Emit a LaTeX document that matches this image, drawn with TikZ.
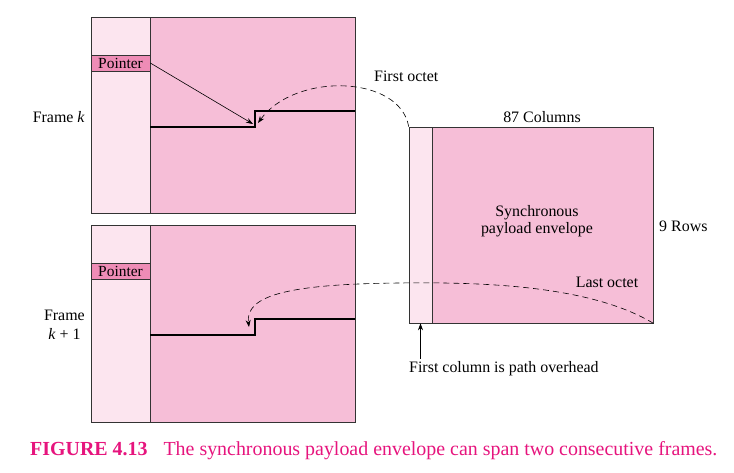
\documentclass[tikz,border=0pt]{standalone}
\usepackage{fontspec}
\setmainfont{Liberation Serif}
\usetikzlibrary{positioning,arrows.meta,calc}
\definecolor{ovhpink}{RGB}{252,229,239}
\definecolor{spepink}{RGB}{246,190,215}
\definecolor{ptrpink}{RGB}{238,140,182}
\definecolor{capmag}{RGB}{230,20,125}
\tikzset{
  ovh/.style={draw=black!80, fill=ovhpink, line width=0.6pt, inner sep=0pt},
  payload/.style={draw=black!80, fill=spepink, line width=0.6pt, inner sep=0pt},
  ptrbox/.style={draw=black!80, fill=ptrpink, line width=0.6pt, inner sep=0pt,
                 minimum width=59bp, minimum height=16bp, font=\fontsize{15.5}{17}\selectfont},
  stepline/.style={line width=1.2pt},
  lbl/.style={font=\fontsize{16}{17}\selectfont, inner sep=0pt},
  ptrarrow/.style={-{Stealth[length=7bp,width=5bp]}, line width=0.6pt},
  octet/.style={-{Stealth[length=7bp,width=5bp]}, dashed, dash pattern=on 6bp off 4bp, line width=0.6pt},
}
\begin{document}
\begin{tikzpicture}[x=1bp,y=-1bp]
  \useasboundingbox (0,0) rectangle (734,473);
  % frame k
  \node[ovh, minimum width=59bp, minimum height=196bp] (Kovh) at (120.5,115) {};
  \node[payload, minimum width=205bp, minimum height=196bp] (Kpay) at (252.5,115) {};
  \node[ptrbox] (Kptr) at (120.5,63) {Pointer};
  \draw[stepline] (Kovh.east |- 0,127) -- (255,127) -- (255,111) -- (Kpay.east |- 0,111);
  \coordinate (Kin) at (253,124);
  \coordinate (Kfirst) at (258,123);
  \node[lbl, anchor=east] (Klbl) at (85,117) {Frame \textit{k}};
  % frame k+1
  \node[ovh, minimum width=59bp, minimum height=197bp] (Movh) at (120.5,323.5) {};
  \node[payload, minimum width=205bp, minimum height=197bp] (Mpay) at (252.5,323.5) {};
  \node[ptrbox] (Mptr) at (120.5,271.5) {Pointer};
  \draw[stepline] (Movh.east |- 0,335) -- (255,335) -- (255,319) -- (Mpay.east |- 0,319);
  \coordinate (Mlast) at (249,327);
  \node[lbl, anchor=east, align=center] (Mlbl) at (85,325) {Frame\\[2pt]\textit{k} + 1};
  % synchronous payload envelope
  \node[ovh, minimum width=23bp, minimum height=196bp] (Sovh) at (420.5,225) {};
  \node[payload, minimum width=221bp, minimum height=196bp] (Spay) at (542.5,225) {};
  \node[lbl, align=center] (Stxt) at (537,221) {Synchronous\\payload envelope};
  \node[lbl] (cols) at (542,117) {87 Columns};
  \node[lbl, anchor=west] (rows) at (659,226) {9 Rows};
  \node[lbl, anchor=west] (first) at (374,76) {First octet};
  \node[lbl] (last) at (607,282) {Last octet};
  \node[lbl, anchor=west] (fcol) at (409,369) {First column is path overhead};
  % connectors
  \draw[ptrarrow] (Kptr.east) -- (Kin);
  \draw[octet] (Sovh.north west) .. controls (400,75) and (295,72) .. (Kfirst);
  \draw[octet] (Spay.south east) .. controls (590,285) and (480,282) .. (400,283)
    .. controls (290,284) and (245,295) .. (Mlast);
  \draw[ptrarrow] (Sovh.south |- fcol.north) ++(0,-3) -- (Sovh.south);
  % caption
  \node[anchor=west, text=capmag, font=\fontsize{20}{22}\selectfont, inner sep=0pt] (cap) at (30,451)
    {\textbf{FIGURE 4.13}\hspace{16bp}The synchronous payload envelope can span two consecutive frames.};
\end{tikzpicture}
\end{document}
